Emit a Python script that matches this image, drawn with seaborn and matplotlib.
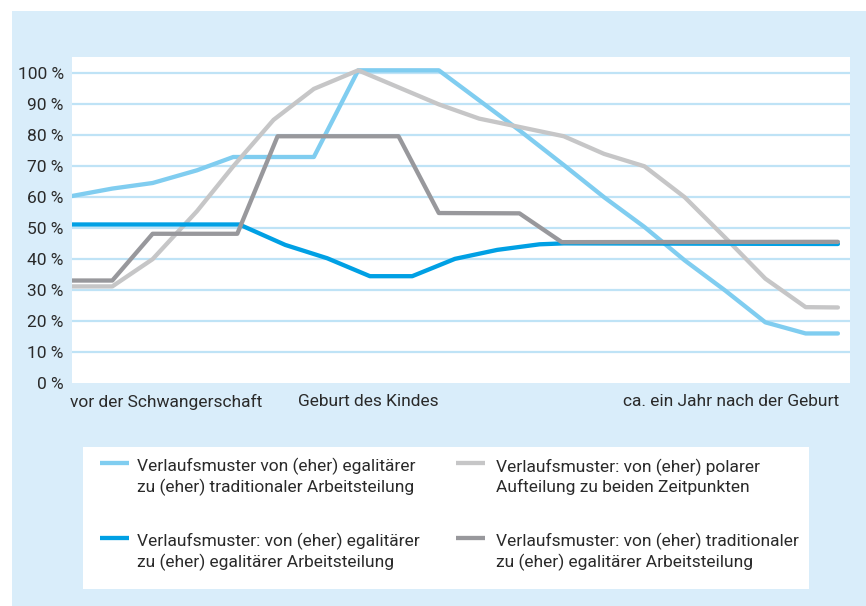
import pandas as pd
import matplotlib.pyplot as plt
import seaborn as sns
from matplotlib.patches import Rectangle


# Verlaufsmuster: Anteil in Prozent über die Zeit
x_hellblau = [0, 1, 2, 3.1, 4, 5, 6, 7.1, 8.1, 9.1, 10.1, 11.1, 12.2, 13.2, 14.2, 15.2, 16.2, 17.2, 18.2, 19]
y_hellblau = [60.4, 62.8, 64.6, 68.7, 73, 73, 73, 101, 101, 101, 91.3, 81.6, 70.4, 60, 50.4, 39.6, 29.9, 19.6, 16, 16]

x_hellgrau = [0, 1, 2, 3.1, 4, 5, 6, 7.1, 8.1, 9.1, 10.1, 11.1, 12.2, 13.2, 14.2, 15.2, 16.2, 17.2, 18.2, 19]
y_hellgrau = [31.2, 31.2, 40, 55.5, 70, 85, 95, 101, 95.5, 90, 85.4, 82.7, 79.7, 74, 70, 60, 47, 33.7, 24.5, 24.4]

x_blau = [0, 4.15, 5.29, 6.33, 7.39, 8.44, 9.5, 10.55, 11.6, 12.2, 19]
y_blau = [51.2, 51.2, 44.6, 40.3, 34.5, 34.5, 40.1, 43, 44.8, 45.1, 44.9]

x_dunkelgrau = [0, 1, 2, 4.1, 5.1, 8.1, 9.1, 11.1, 12.15, 19]
y_dunkelgrau = [33.1, 33.1, 48.2, 48.2, 79.7, 79.7, 54.9, 54.8, 45.5, 45.6]

muster = [
    "Verlaufsmuster von (eher) egalitärer\nzu (eher) traditionaler Arbeitsteilung",
    "Verlaufsmuster: von (eher) polarer\nAufteilung zu beiden Zeitpunkten",
    "Verlaufsmuster: von (eher) egalitärer\nzu (eher) egalitärer Arbeitsteilung",
    "Verlaufsmuster: von (eher) traditionaler\nzu (eher) egalitärer Arbeitsteilung",
]
farben = ["#80cdf0", "#c6c6c7", "#00a0e4", "#98989c"]

zeitpunkte = [0.17, 7.35, 18.3]
zeitpunkt_labels = ["vor der Schwangerschaft", "Geburt des Kindes", "ca. ein Jahr nach der Geburt"]

y_ticks = list(range(0, 101, 10))
y_labels = [f"{v} %" for v in y_ticks]

BG = "#d9edfa"
GRID = "#bfe3f6"
TEXT = "#2a2a2a"
FS = 12.5

sns.set_theme(style="white")
plt.rcParams["font.family"] = ["Roboto", "DejaVu Sans"]

frames = []
for name, xs, ys in zip(
    muster,
    [x_hellblau, x_hellgrau, x_blau, x_dunkelgrau],
    [y_hellblau, y_hellgrau, y_blau, y_dunkelgrau],
):
    frames.append(pd.DataFrame({"zeit": xs, "anteil": ys, "muster": name}))
df = pd.concat(frames, ignore_index=True)

fig = plt.figure(figsize=(8.66, 6.06), dpi=100)
fig.patch.set_facecolor("white")
fig.add_artist(
    Rectangle((12 / 866, 0), 1, 595 / 606, transform=fig.transFigure,
              facecolor=BG, edgecolor="none", zorder=0)
)

ax = fig.add_axes([72 / 866, 223 / 606, 778 / 866, 326 / 606])
ax.set_facecolor("white")

sns.lineplot(
    data=df,
    x="zeit",
    y="anteil",
    hue="muster",
    hue_order=muster,
    palette=dict(zip(muster, farben)),
    estimator=None,
    sort=False,
    linewidth=3.1,
    legend=False,
    ax=ax,
    zorder=3,
)

ax.set_xlim(0, 19.3)
ax.set_ylim(0, 105.3)
ax.set_yticks(y_ticks, labels=y_labels)
ax.set_xticks(zeitpunkte, labels=["", "", ""])
ax.set_xlabel("")
ax.set_ylabel("")

for v in y_ticks[1:]:
    ax.axhline(v, color=GRID, linewidth=1.6, zorder=1)

for side in ax.spines.values():
    side.set_visible(False)

ax.tick_params(axis="y", length=0, pad=6, labelsize=FS, labelcolor=TEXT)
ax.tick_params(axis="x", direction="in", length=9.7, width=1.6, color=GRID,
               labelsize=FS)

offsets = [(-6.1, "left"), (0, "center"), (21.5, "right")]
for pos, label, (dx, ha) in zip(zeitpunkte, zeitpunkt_labels, offsets):
    ax.annotate(
        label,
        xy=(pos, 0),
        xycoords=ax.get_xaxis_transform(),
        xytext=(dx, -13.5),
        textcoords="offset points",
        ha=ha,
        va="center",
        fontsize=FS,
        color=TEXT,
    )

# Legende als eigener weißer Kasten
leg = fig.add_axes([83 / 866, 17 / 606, 726 / 866, 142 / 606])
leg.set_facecolor("white")
leg.set_xlim(0, 726)
leg.set_ylim(142, 0)
leg.axis("off")
leg.add_patch(Rectangle((0, 0), 726, 142, facecolor="white", edgecolor="none"))

spalten = [(17, 54), (373, 413)]
zeilen = [(16, 30), (91, 105)]
for i, (name, farbe) in enumerate(zip(muster, farben)):
    hx, tx = spalten[i % 2]
    hy, ty = zeilen[i // 2]
    leg.plot([hx, hx + 29], [hy, hy], color=farbe, linewidth=3.1,
             solid_capstyle="butt")
    leg.text(tx, ty, name, ha="left", va="center", fontsize=FS,
             color=TEXT, linespacing=1.25)

plt.savefig("out.png", dpi=100, facecolor=fig.get_facecolor())
